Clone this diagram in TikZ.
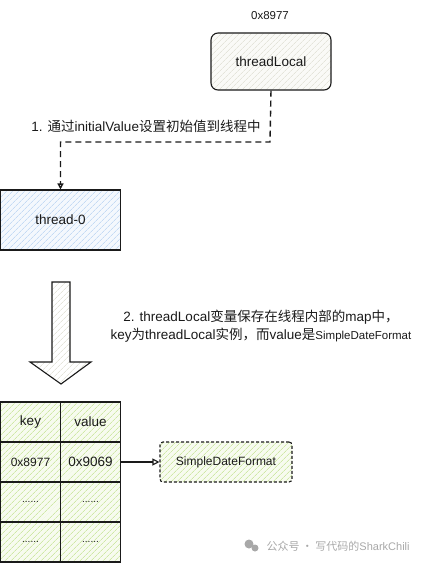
\documentclass[tikz,border=0pt]{standalone}
\usepackage{fontspec}
\setmainfont{Liberation Sans}
\newfontfamily\cjk{Noto Sans CJK SC}
\usetikzlibrary{arrows.meta,patterns.meta}
\definecolor{ink}{HTML}{1A1A1A}
\definecolor{blueh}{HTML}{C4DAF4}
\definecolor{bluebg}{HTML}{F4F8FD}
\definecolor{greenh}{HTML}{CFE8A6}
\definecolor{greenbg}{HTML}{F7FBEF}
\definecolor{grayh}{HTML}{E4E4DA}
\definecolor{graybg}{HTML}{FAFAF7}
\definecolor{wm}{HTML}{A8A8A8}
\tikzset{
  hatch/.style 2 args={preaction={fill=#1},
    preaction={pattern={Lines[angle=45,distance=4pt,line width=0.8pt]},pattern color=#2}},
  txt/.style={font=\fontsize{13.5}{16}\selectfont, text=ink},
  tlbox/.style={draw=ink, line width=1.1pt, rounded corners=7pt, minimum width=120pt,
    minimum height=57pt, hatch={graybg}{grayh}, txt},
  thbox/.style={draw=ink, line width=1.1pt, minimum width=120pt, minimum height=60pt,
    hatch={bluebg}{blueh}, txt},
  cell/.style={draw=ink, line width=1.1pt, minimum width=60pt, minimum height=40pt,
    hatch={greenbg}{greenh}, txt},
  sdfbox/.style={draw=ink, line width=1.1pt, dash pattern=on 3pt off 2pt, rounded corners=3pt,
    minimum width=132pt, minimum height=40pt, hatch={greenbg}{greenh},
    font=\fontsize{12}{14}\selectfont, text=ink},
  dasharrow/.style={draw=ink, line width=1.4pt, dash pattern=on 6pt off 4pt,
    -{Triangle[open,length=6pt,width=6pt]}},
  solidarrow/.style={draw=ink, line width=1.1pt, -{Triangle[open,length=7pt,width=7pt]}},
  dots/.style={font=\fontsize{10}{12}\selectfont, text=ink}
}
\begin{document}
\begin{tikzpicture}[x=1pt,y=-1pt]
\useasboundingbox (0,0) rectangle (431,563);
% top object
\node[font=\fontsize{11.5}{13}\selectfont, text=ink] (addr) at (270,16) {0x8977};
\node[tlbox] (tl) at (271,61.5) {threadLocal};
% thread
\node[thbox] (t0) at (60.5,220) {thread-0};
% dashed connector
\coordinate (bend) at (270,142);
\draw[dasharrow] (tl.south) -- (bend) -| (t0.north);
\node[txt] (lab1) at (146,126) {1. {\cjk 通过}initialValue{\cjk 设置初始值到线程中}};
% big arrow
\draw[ink, line width=1.1pt, hatch={white}{grayh}]
  (52,282) -- (70,282) -- (70,362) -- (91,362) -- (61,384) -- (30,362) -- (52,362) -- cycle;
\node[txt, align=center] (lab2) at (261,326)
  {2. threadLocal{\cjk 变量保存在线程内部的}map{\cjk 中，}\\[2pt]
   key{\cjk 为}threadLocal{\cjk 实例，而}value{\cjk 是}{\fontsize{11.5}{13}\selectfont SimpleDateFormat}};
% table
\node[cell] (k1) at (30.5,422) {key};
\node[cell] (v1) at (90.5,422) {value};
\node[cell, font=\fontsize{12}{14}\selectfont] (k2) at (30.5,462) {0x8977};
\node[cell] (v2) at (90.5,462) {0x9069};
\node[cell, dots] (k3) at (30.5,502) {......};
\node[cell, dots] (v3) at (90.5,502) {......};
\node[cell, dots] (k4) at (30.5,542) {......};
\node[cell, dots] (v4) at (90.5,542) {......};
% SimpleDateFormat
\node[sdfbox] (sdf) at (226,462) {SimpleDateFormat};
\draw[solidarrow] (v2.east) -- (sdf.west);
% watermark
\fill[wm] (249,544) circle (4.5pt);
\fill[wm] (255,548) circle (3.5pt);
\node[text=wm, font=\fontsize{11}{13}\selectfont, anchor=west] (wmk) at (263,546)
  {{\cjk 公众号 · 写代码的}SharkChili};
\end{tikzpicture}
\end{document}
